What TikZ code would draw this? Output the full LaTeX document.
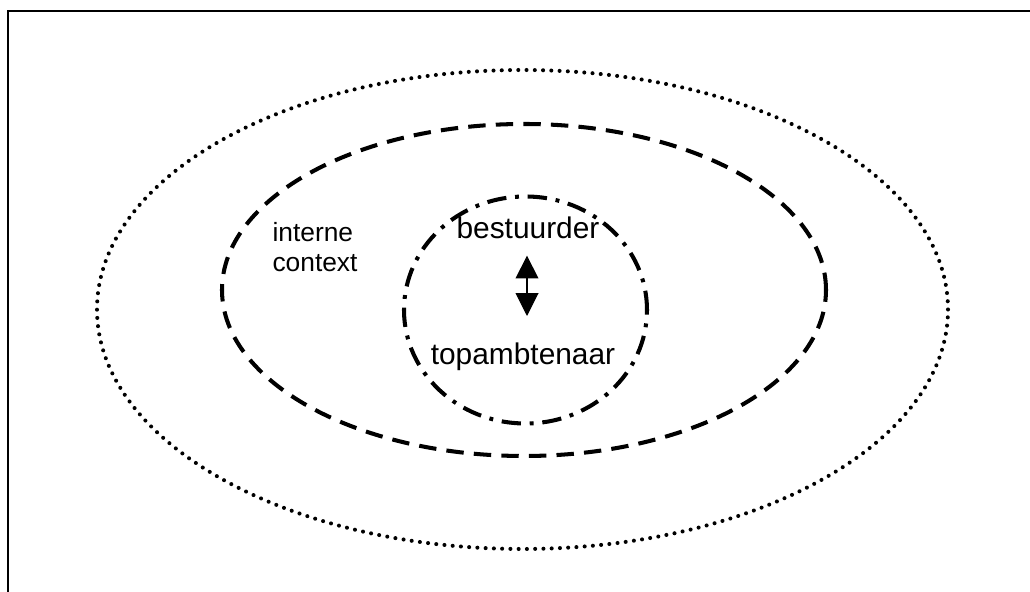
\documentclass[tikz,border=0pt]{standalone}
\usepackage{fontspec}
\setmainfont{Liberation Sans}
\usetikzlibrary{arrows.meta,calc}

\begin{document}
\begin{tikzpicture}
%\draw[help lines] (0,0) grid (20,11);
\useasboundingbox (0,0) rectangle (20.6,11.84);
\draw[line width=1.1pt] (0.16,0) -- (0.16,11.62) -- (20.6,11.62);
\draw[line width=2.3pt,line cap=round,dash pattern=on 0pt off 4.7pt]
    (10.45,5.65) ellipse [x radius=8.51, y radius=4.79];
\draw[line width=2.3pt,dash pattern=on 9.9pt off 5.8pt]
    (10.48,6.04) ellipse [x radius=6.04, y radius=3.32];
\draw[line width=2.3pt,dash pattern=on 11pt off 5pt on 2.2pt off 5pt]
    (10.51,5.64) ellipse [x radius=2.43, y radius=2.27];
\node[align=left,font=\fontsize{15}{17}\selectfont] (context) at (6.3,6.9) {interne\\context};
\node[inner sep=0pt,anchor=base,font=\fontsize{17}{19}\selectfont] (bestuurder) at (10.56,7.06) {bestuurder};
\node[inner sep=0pt,anchor=base,font=\fontsize{17}{19}\selectfont] (topambtenaar) at (10.46,4.54) {topambtenaar};
\draw[{Triangle[length=13pt,width=13pt]}-{Triangle[length=13pt,width=13pt]},line width=0.6pt,
    shorten <=0.32cm,shorten >=0.54cm]
    ($(bestuurder.south)+(-0.02,0)$) -- ($(bestuurder.south |- topambtenaar.north)+(-0.02,0)$);
\end{tikzpicture}
\end{document}
